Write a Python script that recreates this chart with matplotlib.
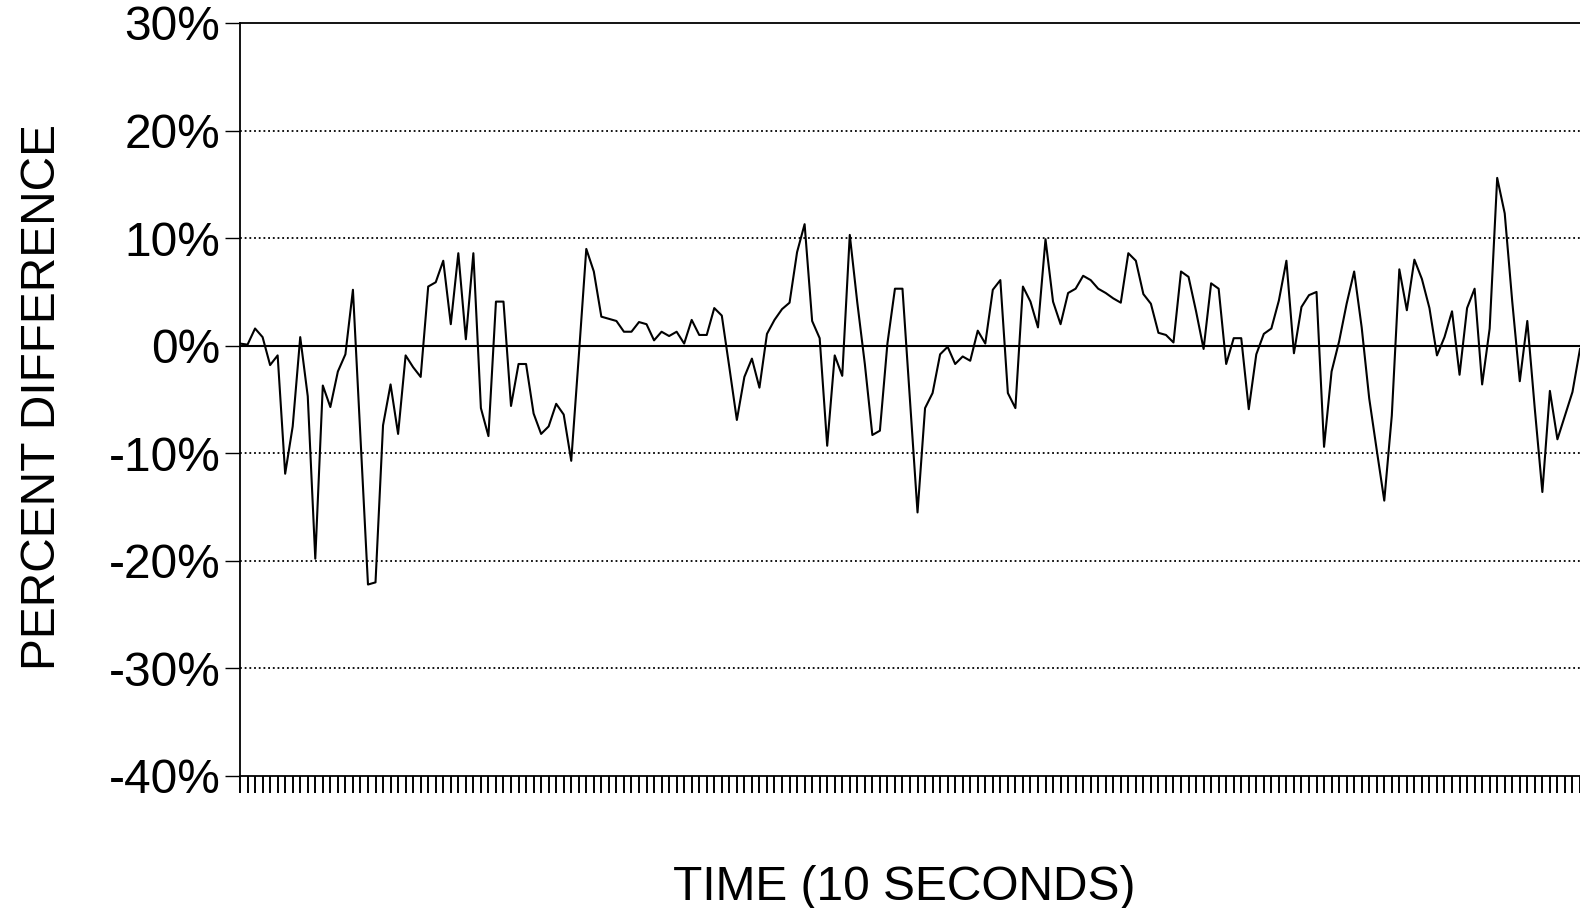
import numpy as np
import matplotlib
matplotlib.use("Agg")
import matplotlib.pyplot as plt

plt.rcParams['font.family'] = ['Liberation Sans', 'DejaVu Sans']

# percent difference, one reading per 10 s interval
pct_diff = [
    0.2, 0.1, 1.6, 0.8, -1.8, -0.9, -11.9, -7.5, 0.8, -4.7,
    -19.8, -3.7, -5.7, -2.4, -0.8, 5.2, -8.5, -22.2, -22.0, -7.4,
    -3.6, -8.2, -0.9, -2.0, -2.9, 5.5, 5.9, 7.9, 2.0, 8.6,
    0.6, 8.6, -5.8, -8.4, 4.1, 4.1, -5.6, -1.7, -1.7, -6.3,
    -8.2, -7.5, -5.4, -6.4, -10.7, -1.0, 9.0, 6.9, 2.7, 2.5,
    2.3, 1.3, 1.3, 2.2, 2.0, 0.5, 1.3, 0.9, 1.3, 0.2,
    2.4, 1.0, 1.0, 3.5, 2.8, -2.0, -6.9, -2.9, -1.2, -3.9,
    1.1, 2.4, 3.4, 4.0, 8.7, 11.3, 2.3, 0.7, -9.3, -0.9,
    -2.8, 10.3, 4.0, -1.7, -8.3, -7.9, 0.2, 5.3, 5.3, -5.1,
    -15.5, -5.8, -4.4, -0.8, -0.1, -1.7, -1.0, -1.4, 1.4, 0.2,
    5.2, 6.1, -4.4, -5.8, 5.5, 4.1, 1.7, 9.9, 4.1, 2.0,
    4.9, 5.3, 6.5, 6.1, 5.3, 4.9, 4.4, 4.0, 8.6, 7.9,
    4.8, 3.9, 1.2, 1.0, 0.3, 6.9, 6.4, 3.2, -0.3, 5.8,
    5.3, -1.7, 0.7, 0.7, -5.9, -0.8, 1.1, 1.6, 4.2, 7.9,
    -0.7, 3.6, 4.7, 5.0, -9.4, -2.4, 0.4, 3.9, 6.9, 1.7,
    -4.9, -9.7, -14.4, -6.5, 7.1, 3.3, 8.0, 6.2, 3.5, -0.9,
    0.8, 3.2, -2.7, 3.5, 5.3, -3.6, 1.6, 15.6, 12.3, 4.1,
    -3.3, 2.3, -5.9, -13.6, -4.2, -8.7, -6.5, -4.3, -0.3,
]
y_ticks = [30, 20, 10, 0, -10, -20, -30, -40]
y_ticklabels = ['30%', '20%', '10%', '0%', '-10%', '-20%', '-30%', '-40%']

t = np.arange(len(pct_diff))

fig = plt.figure(figsize=(15.8, 9.08), dpi=100)
W, H = 1580, 908
# plot box: left spine at x=240, top at y=23, bottom at y=776, runs off the right edge
ax = fig.add_axes([240 / W, 1 - 776 / H, (W - 240) / W, (776 - 23) / H])

ax.plot(t, pct_diff, color='black', lw=1.5)

# gridlines
for v in [20, 10, -10, -20, -30]:
    ax.axhline(v, color='black', lw=1.3, ls=(0, (1, 1.6)), zorder=0)
ax.axhline(0, color='black', lw=1.5, zorder=1)

ax.set_xlim(0, len(pct_diff) - 1)
ax.set_ylim(-40, 30)
ax.set_yticks(y_ticks)
ax.set_yticklabels(y_ticklabels, fontsize=34.5)
ax.set_xticks(t)
ax.set_xticklabels([])
ax.tick_params(axis='y', direction='out', length=11, width=1.0, pad=3)
ax.tick_params(axis='x', direction='out', length=12, width=1.4)
ax.spines['right'].set_visible(False)
for s in ['left', 'top', 'bottom']:
    ax.spines[s].set_linewidth(1.3)

fig.text(43 / W, 1 - 397 / H, 'PERCENT DIFFERENCE', rotation=90,
         ha='center', va='center', fontsize=34.5)
fig.text(904 / W, 1 - 888 / H, 'TIME (10 SECONDS)',
         ha='center', va='center', fontsize=34.5)

fig.savefig('out.png', dpi=100)
